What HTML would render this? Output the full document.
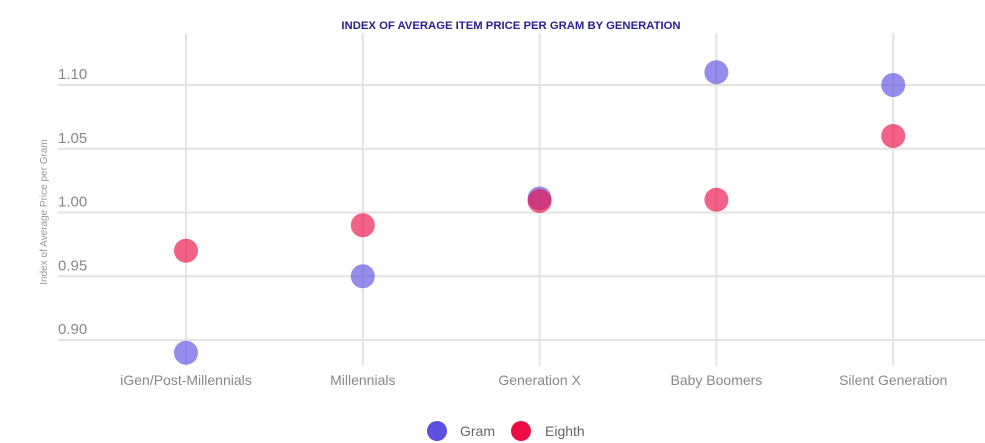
<!DOCTYPE html>
<html><head><meta charset="utf-8"><style>
body{margin:0;background:#fff;font-family:"Liberation Sans",sans-serif;}
svg{display:block}
</style></head><body>
<svg id="chart" width="985" height="443">
<text x="511" y="29" text-anchor="middle" font-size="11.3" font-weight="bold" fill="#2a2190">INDEX OF AVERAGE ITEM PRICE PER GRAM BY GENERATION</text>
<text transform="translate(47,212) rotate(-90)" text-anchor="middle" font-size="10" fill="#999">Index of Average Price per Gram</text>
<g id="grid"></g><g id="marks"></g>
<g>
<circle cx="437" cy="431" r="10" fill="#5b50e0"/>
<text x="460" y="436" font-size="14" fill="#666">Gram</text>
<circle cx="521" cy="431" r="10" fill="#ec0d45"/>
<text x="545" y="436" font-size="14" fill="#666">Eighth</text>
</g>
</svg>
<script>
const categories=["iGen/Post-Millennials","Millennials","Generation X","Baby Boomers","Silent Generation"];
const gramValues=[0.89,0.95,1.011,1.11,1.10];
const eighthValues=[0.97,0.99,1.009,1.01,1.06];
const yTicks=[0.90,0.95,1.00,1.05,1.10];
const NS="http://www.w3.org/2000/svg";
const y=v=>212.5-(v-1)*1275;
const x=i=>186+i*176.8;
const grid=document.getElementById('grid'),marks=document.getElementById('marks');
function mk(tag,a,p){const e=document.createElementNS(NS,tag);for(const k in a)e.setAttribute(k,a[k]);p.appendChild(e);return e;}
yTicks.forEach(t=>{
 const l=mk('line',{x1:58,x2:985,y1:y(t),y2:y(t),stroke:'#e3e3e3','stroke-width':2},grid);
 
 
 const tx=mk('text',{x:58,y:y(t)-6,'font-size':15,fill:'#888'},grid);tx.textContent=t.toFixed(2);
 
 
});
categories.forEach((c,i)=>{
 const l=mk('line',{x1:x(i),x2:x(i),y1:33,y2:366,stroke:'#e3e3e3','stroke-width':2},grid);
 
 
 const tx=mk('text',{x:x(i),y:385,'text-anchor':'middle','font-size':14,fill:'#888'},grid);tx.textContent=c;
 
 
});
categories.forEach((c,i)=>{
 const g=mk('circle',{cx:x(i),cy:y(gramValues[i]),r:12,fill:'#5b50e0','fill-opacity':0.65},marks);
 
 
 const e=mk('circle',{cx:x(i),cy:y(eighthValues[i]),r:12,fill:'#ec0d45','fill-opacity':0.65},marks);
 
 
});
</script>
</body></html>
